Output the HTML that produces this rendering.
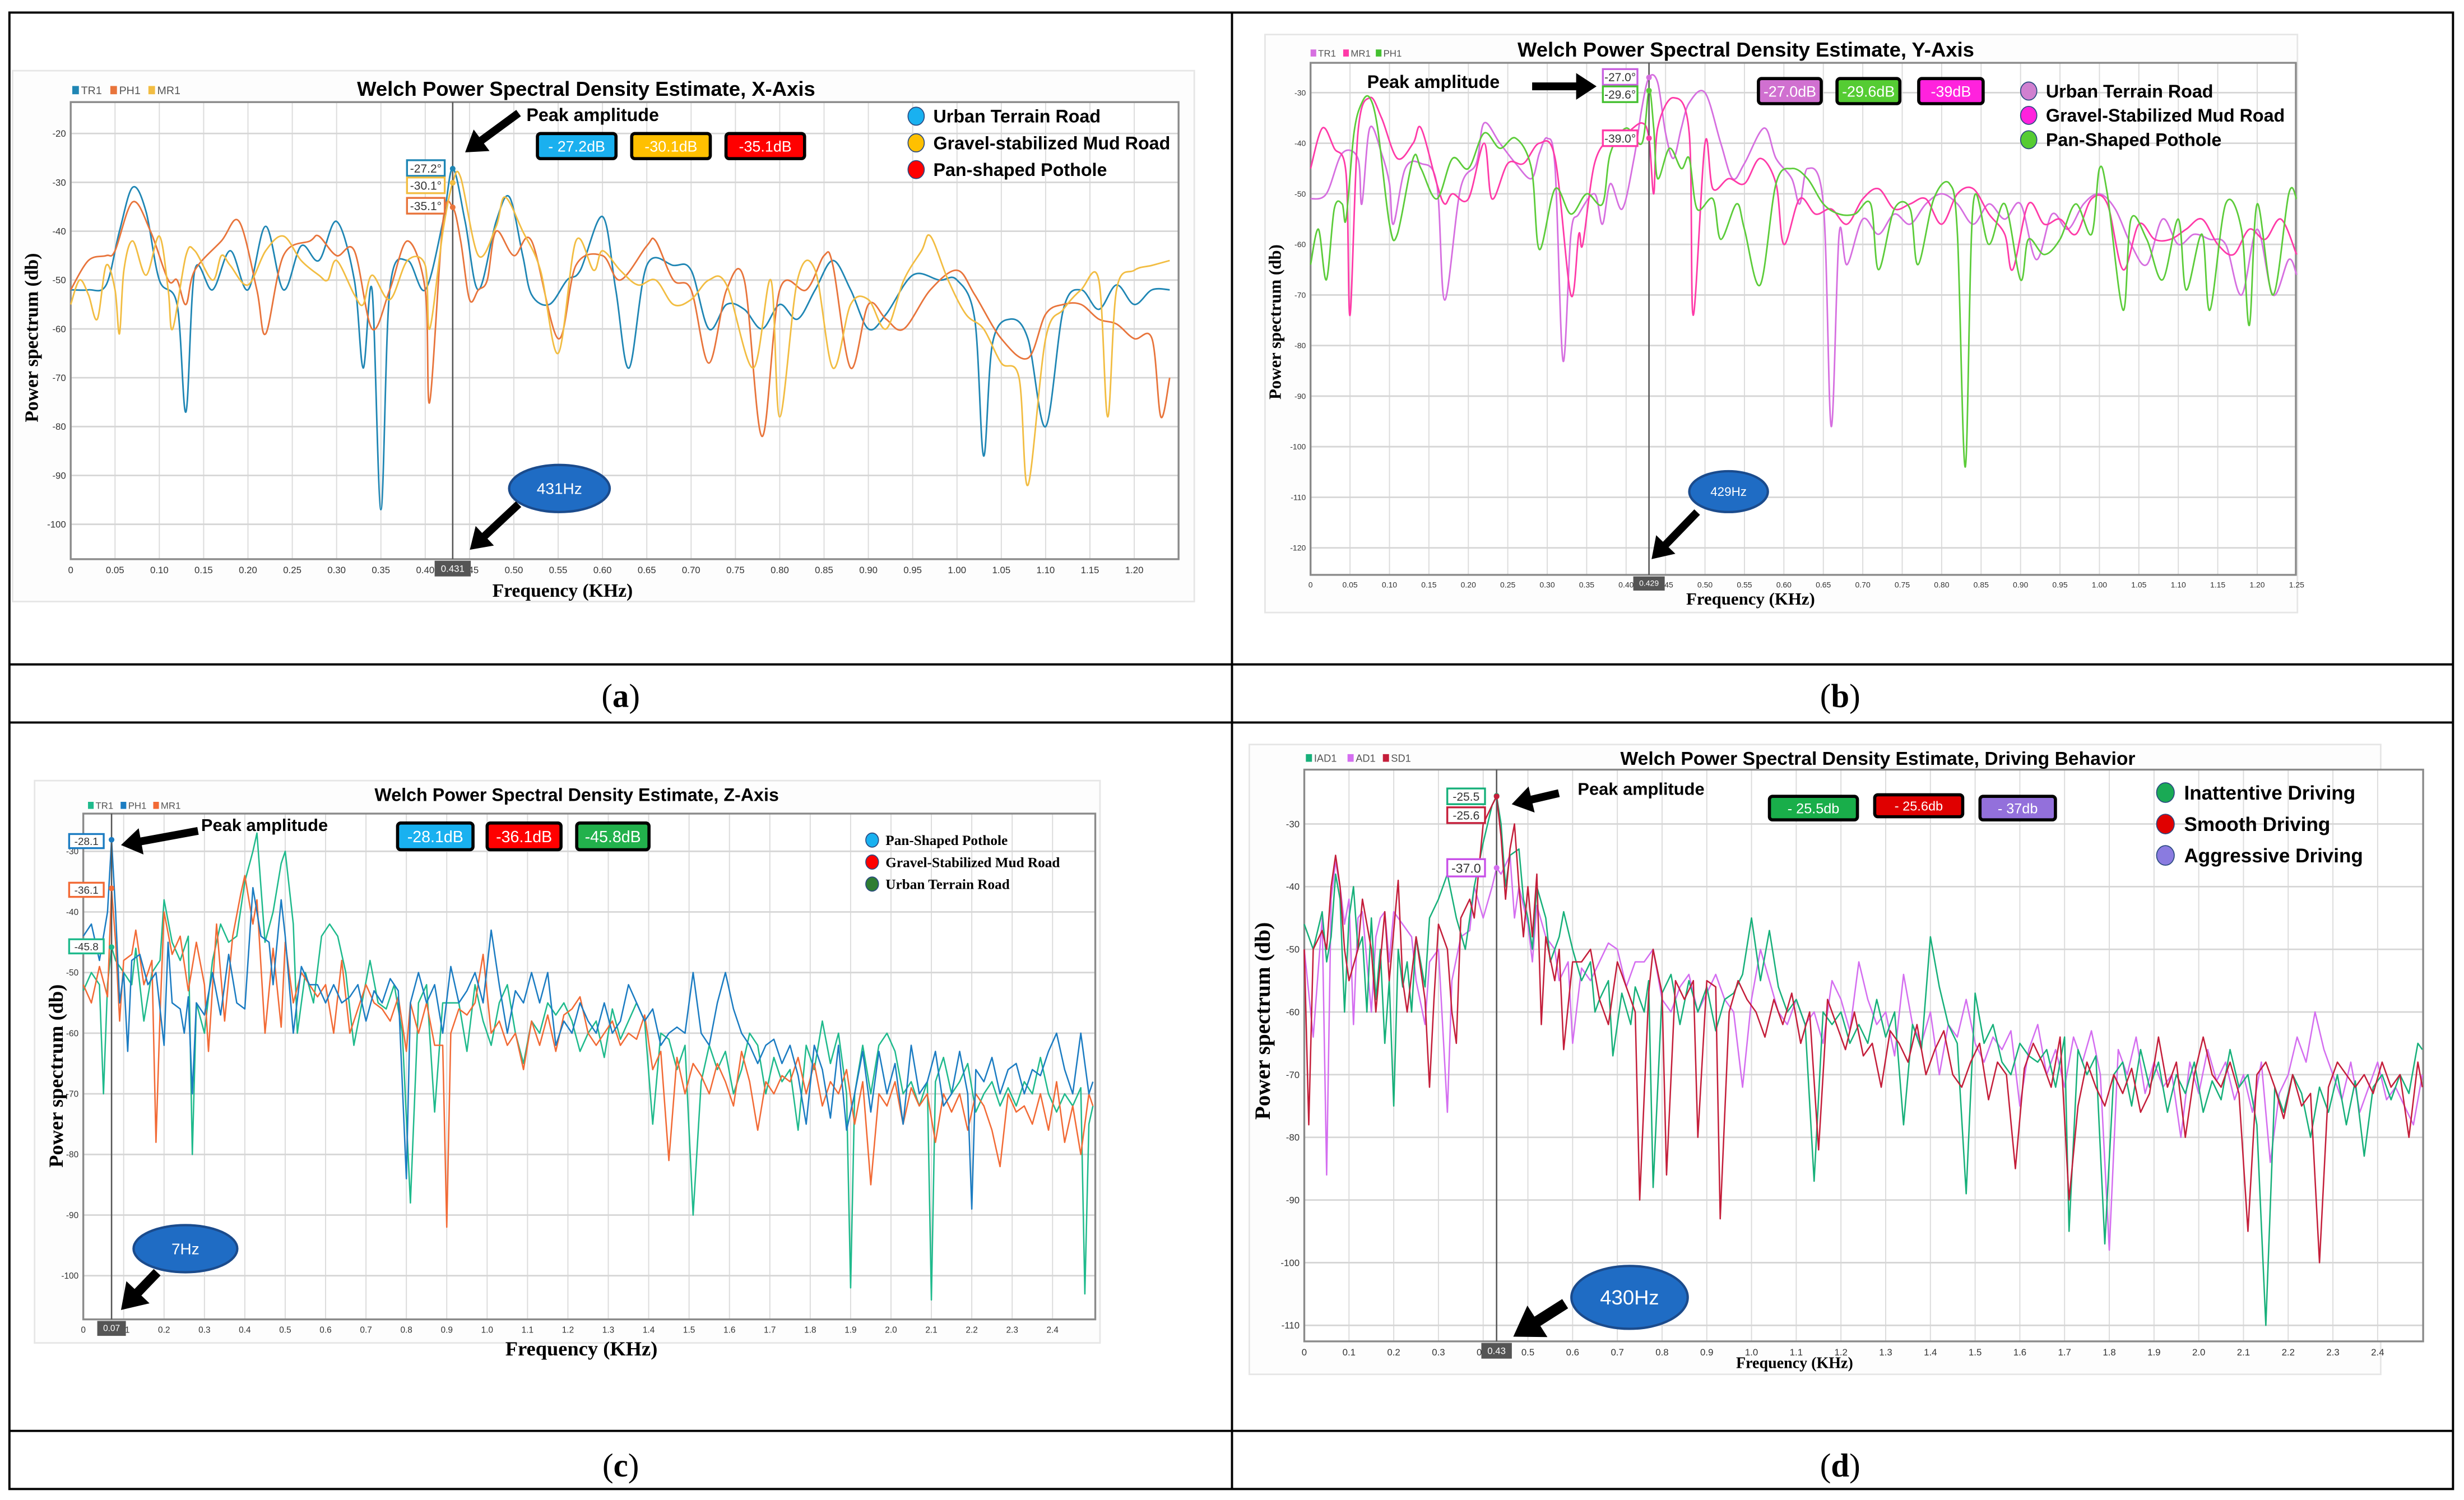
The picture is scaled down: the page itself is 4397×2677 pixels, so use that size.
<!DOCTYPE html>
<html><head><meta charset="utf-8"><title>Welch PSD figure</title>
<style>
html,body{margin:0;padding:0;background:#fff;}
svg{display:block;}
text{font-family:"Liberation Sans",sans-serif;}
.serif{font-family:"Liberation Serif",serif;}
</style></head>
<body>
<svg id="fig" xmlns="http://www.w3.org/2000/svg" width="4397" height="2677" viewBox="0 0 1568 955" preserveAspectRatio="none">
  <rect x="0" y="0" width="1568" height="955" fill="#fff"/>
  <g fill="none" stroke="#000" stroke-width="1.4">
    <rect x="6" y="8" width="1555" height="940"/>
    <line x1="784" y1="8" x2="784" y2="948"/>
    <line x1="6" y1="423" x2="1561" y2="423"/>
    <line x1="6" y1="460" x2="1561" y2="460"/>
    <line x1="6" y1="911" x2="1561" y2="911"/>
  </g>
  <text class="serif" x="395" y="450" font-size="21" text-anchor="middle">(<tspan font-weight="bold">a</tspan>)</text>
  <text class="serif" x="1171" y="450" font-size="21" text-anchor="middle">(<tspan font-weight="bold">b</tspan>)</text>
  <text class="serif" x="395" y="940" font-size="21" text-anchor="middle">(<tspan font-weight="bold">c</tspan>)</text>
  <text class="serif" x="1171" y="940" font-size="21" text-anchor="middle">(<tspan font-weight="bold">d</tspan>)</text>
  <g id="charts"></g>
</svg>
<script>
// ===== Panel (a) X-axis data =====
const aFreqTR1=[0,.02,.04,.055,.07,.085,.10,.12,.13,.14,.16,.18,.20,.22,.24,.26,.28,.30,.32,.33,.34,.35,.36,.38,.40,.42,.431,.445,.46,.48,.495,.51,.52,.54,.56,.575,.60,.615,.63,.65,.68,.70,.72,.74,.76,.78,.80,.82,.84,.86,.88,.90,.92,.95,.98,1.00,1.02,1.03,1.04,1.06,1.08,1.10,1.12,1.14,1.16,1.18,1.20,1.22,1.24];
const aDbTR1=[-52,-52,-51,-40,-31,-36,-50,-55,-77,-48,-52,-44,-52,-39,-52,-43,-46,-38,-50,-68,-52,-97,-52,-46,-52,-38,-27.2,-38,-52,-38,-33,-45,-53,-55,-50,-48,-37,-52,-68,-47,-47,-48,-60,-55,-56,-60,-55,-58,-52,-46,-52,-60,-57,-49,-50,-50,-58,-86,-63,-58,-62,-80,-56,-52,-56,-51,-55,-52,-52];
const aFreqPH1=[0,.02,.04,.05,.07,.09,.11,.12,.13,.14,.17,.19,.21,.22,.24,.27,.28,.30,.32,.34,.36,.38,.40,.405,.42,.431,.44,.45,.46,.47,.48,.50,.52,.55,.57,.60,.62,.65,.66,.68,.70,.72,.74,.76,.78,.80,.83,.85,.86,.88,.90,.92,.94,.97,1.00,1.02,1.05,1.08,1.10,1.12,1.14,1.16,1.18,1.20,1.22,1.23,1.24];
const aDbPH1=[-52,-46,-45,-44,-34,-40,-50,-50,-55,-48,-42,-38,-52,-61,-45,-42,-41,-45,-44,-60,-52,-42,-52,-75,-38,-35.1,-42,-54,-52,-50,-40,-45,-42,-62,-47,-45,-50,-43,-42,-50,-52,-67,-52,-50,-82,-52,-52,-45,-47,-68,-55,-58,-60,-52,-48,-53,-62,-66,-57,-55,-55,-58,-59,-62,-62,-78,-70];
const aFreqMR1=[0,.01,.02,.03,.04,.05,.055,.06,.07,.085,.10,.11,.115,.13,.14,.16,.17,.18,.20,.22,.24,.26,.28,.29,.30,.32,.33,.34,.36,.38,.40,.405,.42,.431,.44,.46,.48,.49,.51,.53,.55,.57,.59,.60,.62,.64,.66,.68,.70,.72,.74,.77,.79,.80,.82,.84,.86,.88,.90,.92,.94,.96,.97,.99,1.01,1.03,1.05,1.07,1.08,1.10,1.12,1.14,1.16,1.17,1.18,1.20,1.22,1.24];
const aDbMR1=[-55,-50,-53,-58,-47,-52,-61,-48,-42,-49,-41,-52,-60,-45,-44,-50,-45,-47,-51,-44,-41,-46,-49,-50,-46,-53,-55,-49,-54,-46,-47,-60,-40,-30.1,-29,-45,-39,-33,-40,-48,-65,-42,-48,-44,-48,-51,-50,-55,-54,-50,-51,-68,-50,-78,-50,-48,-68,-55,-54,-60,-50,-44,-41,-50,-57,-60,-67,-70,-92,-62,-56,-52,-50,-78,-52,-48,-47,-46];

// ===== Panel (b) Y-axis data =====
const bFreqTR1=[0,.02,.04,.06,.065,.075,.09,.10,.105,.12,.14,.16,.17,.19,.21,.22,.24,.26,.28,.29,.30,.31,.32,.33,.34,.36,.37,.38,.395,.41,.42,.429,.44,.45,.46,.47,.48,.50,.52,.535,.55,.575,.59,.61,.62,.63,.65,.66,.67,.68,.70,.72,.74,.76,.78,.80,.82,.84,.86,.88,.90,.92,.94,.96,.98,1.00,1.02,1.04,1.06,1.08,1.10,1.12,1.14,1.16,1.18,1.20,1.22,1.24,1.25];
const bDbTR1=[-51,-50,-42,-43,-52,-37,-42,-48,-56,-45,-44,-48,-71,-49,-44,-36,-40,-44,-47,-42,-39,-45,-83,-58,-54,-50,-56,-48,-53,-43,-33,-27,-28,-38,-43,-37,-32,-30,-40,-47,-44,-37,-43,-47,-52,-45,-52,-96,-58,-64,-55,-58,-54,-56,-52,-50,-52,-56,-52,-55,-52,-63,-54,-57,-52,-50,-53,-60,-64,-55,-60,-58,-59,-60,-70,-57,-70,-63,-66];
const bFreqMR1=[0,.015,.03,.045,.05,.06,.075,.09,.11,.13,.14,.16,.17,.18,.20,.22,.23,.25,.27,.29,.31,.33,.34,.345,.36,.38,.40,.42,.429,.435,.44,.46,.48,.485,.50,.51,.53,.55,.57,.59,.60,.62,.64,.66,.68,.70,.72,.74,.76,.78,.80,.82,.84,.86,.88,.89,.91,.93,.95,.97,.99,1.01,1.03,1.05,1.07,1.09,1.11,1.13,1.15,1.17,1.19,1.21,1.23,1.25];
const bDbMR1=[-45,-37,-41,-46,-74,-38,-31,-35,-43,-40,-37,-48,-52,-50,-51,-40,-51,-44,-44,-40,-43,-70,-58,-60,-44,-39,-38,-36,-39,-50,-37,-31,-38,-74,-40,-49,-47,-48,-43,-48,-60,-51,-54,-53,-56,-51,-49,-53,-52,-51,-56,-50,-49,-54,-58,-65,-52,-56,-55,-58,-51,-52,-65,-56,-59,-59,-57,-55,-60,-62,-57,-59,-55,-62];
const bFreqPH1=[0,.01,.02,.03,.04,.045,.055,.065,.075,.085,.10,.11,.13,.14,.16,.18,.20,.22,.24,.26,.28,.29,.31,.33,.35,.37,.38,.40,.42,.429,.435,.44,.455,.47,.48,.49,.51,.52,.54,.55,.57,.59,.61,.63,.65,.67,.69,.71,.72,.74,.76,.77,.79,.81,.82,.83,.84,.86,.88,.90,.91,.93,.95,.97,.99,1.00,1.01,1.03,1.04,1.06,1.08,1.10,1.11,1.13,1.14,1.16,1.18,1.19,1.20,1.22,1.24,1.25];
const bDbPH1=[-64,-57,-67,-53,-52,-55,-38,-32,-31,-37,-56,-58,-43,-45,-51,-43,-45,-38,-41,-39,-45,-61,-49,-54,-50,-52,-42,-37,-40,-29.6,-37,-47,-41,-45,-43,-53,-51,-59,-52,-57,-68,-48,-45,-47,-52,-54,-54,-52,-65,-53,-53,-64,-51,-48,-58,-104,-52,-60,-52,-67,-59,-62,-59,-52,-58,-45,-50,-73,-55,-59,-67,-55,-69,-58,-73,-52,-57,-76,-52,-70,-50,-51];

// ===== Panel (c) Z-axis data =====
const cFreqPH1=[0,.02,.04,.06,.07,.08,.09,.10,.11,.12,.14,.16,.18,.20,.21,.22,.24,.25,.26,.27,.28,.30,.32,.34,.36,.38,.40,.42,.44,.46,.47,.49,.50,.52,.54,.56,.58,.60,.62,.64,.66,.68,.70,.72,.74,.76,.78,.80,.81,.83,.85,.87,.89,.91,.93,.95,.97,.99,1.01,1.03,1.05,1.07,1.09,1.11,1.13,1.15,1.17,1.19,1.21,1.23,1.25,1.27,1.29,1.31,1.33,1.35,1.37,1.39,1.41,1.43,1.45,1.47,1.49,1.51,1.53,1.55,1.57,1.59,1.61,1.63,1.65,1.67,1.69,1.71,1.73,1.75,1.77,1.79,1.81,1.83,1.85,1.87,1.89,1.91,1.93,1.95,1.97,1.99,2.01,2.03,2.05,2.07,2.09,2.11,2.13,2.15,2.17,2.19,2.20,2.21,2.23,2.25,2.27,2.29,2.31,2.33,2.35,2.37,2.39,2.41,2.43,2.45,2.47,2.49,2.50];
const cDbPH1=[-44,-42,-48,-40,-28.1,-40,-55,-50,-63,-48,-47,-52,-50,-62,-45,-55,-56,-60,-54,-70,-55,-57,-50,-57,-47,-55,-56,-36,-44,-45,-52,-38,-44,-60,-49,-52,-52,-55,-52,-55,-54,-52,-58,-53,-55,-51,-53,-84,-55,-50,-55,-52,-60,-49,-55,-53,-50,-55,-43,-52,-60,-53,-55,-50,-55,-50,-62,-58,-60,-55,-58,-60,-55,-60,-58,-52,-55,-58,-56,-62,-60,-59,-60,-50,-60,-62,-55,-50,-56,-60,-62,-65,-62,-61,-65,-62,-67,-75,-62,-66,-74,-62,-76,-70,-63,-73,-63,-70,-65,-75,-62,-70,-68,-63,-72,-70,-63,-70,-89,-66,-68,-64,-70,-66,-65,-70,-66,-67,-63,-60,-66,-70,-60,-70,-68];
const cFreqMR1=[0,.02,.04,.06,.07,.08,.09,.10,.12,.13,.15,.17,.18,.19,.20,.22,.24,.26,.28,.30,.31,.33,.35,.37,.39,.40,.42,.43,.45,.47,.49,.50,.52,.54,.56,.58,.60,.62,.64,.66,.68,.70,.72,.74,.76,.78,.80,.81,.83,.85,.87,.89,.90,.91,.93,.95,.97,.99,1.01,1.03,1.05,1.07,1.09,1.11,1.13,1.15,1.17,1.19,1.21,1.23,1.25,1.27,1.29,1.31,1.33,1.35,1.37,1.39,1.41,1.43,1.45,1.47,1.49,1.51,1.53,1.55,1.57,1.59,1.61,1.63,1.65,1.67,1.69,1.71,1.73,1.75,1.77,1.79,1.81,1.83,1.85,1.87,1.89,1.91,1.93,1.95,1.97,1.99,2.01,2.03,2.05,2.07,2.09,2.11,2.13,2.15,2.17,2.19,2.21,2.23,2.25,2.27,2.29,2.31,2.33,2.35,2.37,2.39,2.41,2.43,2.45,2.47,2.49,2.50];
const cDbMR1=[-52,-55,-49,-54,-36.1,-45,-58,-48,-47,-43,-52,-48,-78,-57,-40,-47,-44,-53,-45,-52,-63,-42,-58,-44,-37,-34,-42,-38,-60,-46,-59,-45,-55,-50,-52,-54,-52,-60,-48,-60,-56,-52,-55,-56,-58,-54,-63,-55,-60,-55,-62,-62,-92,-60,-56,-57,-55,-47,-60,-58,-62,-60,-66,-58,-62,-57,-63,-57,-56,-54,-60,-62,-60,-58,-62,-60,-61,-57,-66,-63,-81,-64,-70,-65,-67,-70,-65,-68,-72,-63,-68,-76,-68,-70,-67,-68,-64,-70,-65,-72,-68,-70,-66,-75,-68,-85,-70,-72,-68,-75,-69,-72,-70,-78,-70,-73,-70,-76,-70,-72,-76,-82,-70,-73,-72,-75,-70,-76,-68,-78,-72,-80,-70,-72];
const cFreqTR1=[0,.02,.04,.05,.06,.07,.08,.10,.12,.13,.15,.17,.19,.20,.22,.24,.26,.27,.28,.30,.32,.34,.36,.38,.40,.42,.43,.45,.47,.49,.50,.52,.53,.55,.57,.59,.61,.63,.65,.67,.69,.71,.73,.75,.77,.79,.81,.83,.85,.87,.89,.91,.93,.95,.97,.99,1.01,1.03,1.05,1.07,1.09,1.11,1.13,1.15,1.17,1.19,1.21,1.23,1.25,1.27,1.29,1.31,1.33,1.35,1.37,1.39,1.41,1.43,1.45,1.47,1.49,1.51,1.53,1.55,1.57,1.59,1.61,1.63,1.65,1.67,1.69,1.71,1.73,1.75,1.77,1.79,1.81,1.83,1.85,1.87,1.89,1.90,1.91,1.93,1.95,1.97,1.99,2.01,2.03,2.05,2.07,2.09,2.10,2.11,2.13,2.15,2.17,2.19,2.21,2.23,2.25,2.27,2.29,2.31,2.33,2.35,2.37,2.39,2.41,2.43,2.45,2.47,2.48,2.49,2.50];
const cDbTR1=[-53,-50,-52,-70,-52,-45.8,-48,-50,-52,-46,-58,-50,-48,-38,-45,-48,-44,-80,-55,-60,-48,-42,-45,-44,-35,-30,-27,-45,-40,-32,-30,-42,-60,-50,-55,-44,-42,-44,-50,-62,-55,-48,-55,-56,-52,-60,-88,-55,-52,-73,-55,-55,-55,-63,-52,-58,-62,-55,-52,-60,-65,-58,-60,-55,-57,-55,-58,-63,-60,-58,-64,-56,-61,-58,-55,-58,-75,-60,-61,-66,-62,-90,-68,-62,-66,-63,-70,-66,-60,-62,-70,-64,-68,-66,-76,-62,-66,-58,-65,-60,-70,-102,-70,-62,-70,-62,-60,-63,-70,-68,-72,-68,-104,-68,-64,-70,-68,-65,-73,-70,-68,-72,-69,-72,-68,-70,-64,-70,-73,-70,-72,-69,-103,-75,-72];

// ===== Panel (d) Driving behaviour data =====
const dFreqIAD1=[0,.02,.04,.05,.06,.07,.08,.09,.10,.11,.12,.13,.14,.15,.16,.17,.18,.19,.20,.21,.22,.23,.24,.25,.26,.27,.28,.30,.32,.34,.36,.38,.40,.42,.43,.44,.45,.46,.48,.49,.50,.51,.52,.54,.55,.57,.58,.60,.62,.64,.65,.66,.68,.69,.71,.73,.74,.76,.77,.78,.80,.82,.84,.86,.88,.90,.92,.94,.96,.98,1.00,1.02,1.04,1.06,1.08,1.10,1.12,1.14,1.16,1.18,1.20,1.22,1.24,1.26,1.28,1.30,1.32,1.34,1.36,1.38,1.40,1.42,1.44,1.46,1.48,1.50,1.52,1.54,1.56,1.58,1.60,1.62,1.64,1.66,1.68,1.70,1.71,1.73,1.75,1.77,1.79,1.81,1.83,1.85,1.87,1.89,1.91,1.93,1.95,1.97,1.99,2.01,2.03,2.05,2.07,2.09,2.11,2.13,2.15,2.17,2.19,2.21,2.23,2.25,2.27,2.29,2.31,2.33,2.35,2.37,2.39,2.41,2.43,2.45,2.47,2.49,2.50];
const dDbIAD1=[-46,-50,-44,-52,-48,-38,-42,-60,-45,-40,-50,-48,-60,-45,-58,-50,-65,-55,-75,-50,-56,-52,-60,-48,-52,-56,-45,-42,-38,-45,-50,-40,-33,-27,-25.5,-30,-40,-35,-34,-42,-45,-50,-40,-45,-52,-48,-44,-50,-55,-52,-60,-58,-55,-67,-57,-62,-56,-60,-55,-88,-57,-54,-62,-55,-60,-56,-63,-58,-57,-54,-45,-55,-47,-56,-60,-58,-62,-87,-60,-62,-60,-65,-62,-65,-58,-64,-60,-78,-62,-66,-48,-56,-62,-65,-89,-57,-65,-62,-68,-70,-65,-67,-68,-66,-72,-64,-95,-66,-70,-67,-97,-70,-68,-75,-66,-72,-68,-76,-70,-73,-68,-76,-71,-74,-66,-72,-70,-78,-110,-72,-76,-70,-73,-80,-72,-76,-70,-78,-71,-83,-72,-70,-74,-70,-73,-65,-66];
const dFreqAD1=[0,.02,.04,.05,.06,.07,.08,.09,.10,.11,.12,.13,.14,.15,.16,.17,.18,.19,.20,.22,.24,.25,.27,.28,.30,.32,.33,.35,.37,.38,.40,.42,.43,.44,.46,.47,.48,.50,.51,.52,.54,.56,.57,.59,.60,.62,.64,.66,.68,.70,.72,.74,.76,.78,.80,.82,.84,.86,.88,.90,.92,.94,.96,.98,1.00,1.02,1.04,1.06,1.08,1.10,1.12,1.14,1.16,1.18,1.20,1.22,1.24,1.26,1.28,1.30,1.32,1.34,1.36,1.38,1.40,1.42,1.44,1.46,1.48,1.50,1.52,1.54,1.56,1.58,1.60,1.62,1.64,1.66,1.68,1.70,1.72,1.74,1.76,1.78,1.80,1.82,1.84,1.86,1.88,1.90,1.92,1.94,1.96,1.98,2.00,2.02,2.04,2.06,2.08,2.10,2.12,2.14,2.16,2.18,2.20,2.22,2.24,2.26,2.28,2.30,2.32,2.34,2.36,2.38,2.40,2.42,2.44,2.46,2.48,2.50];
const dDbAD1=[-50,-64,-45,-86,-42,-36,-40,-46,-42,-62,-45,-44,-52,-60,-48,-45,-44,-52,-44,-46,-48,-55,-62,-52,-50,-76,-55,-48,-47,-40,-45,-40,-37,-38,-35,-45,-40,-46,-52,-43,-48,-50,-55,-52,-65,-53,-55,-52,-49,-50,-56,-52,-52,-50,-58,-60,-56,-54,-60,-57,-54,-58,-60,-72,-58,-50,-55,-60,-62,-58,-62,-60,-65,-55,-58,-63,-52,-58,-62,-60,-67,-54,-62,-65,-60,-70,-62,-64,-58,-65,-68,-64,-66,-63,-75,-66,-62,-70,-66,-72,-64,-68,-63,-70,-98,-66,-70,-64,-73,-68,-72,-70,-80,-68,-73,-66,-71,-68,-74,-70,-76,-68,-84,-73,-70,-64,-68,-60,-66,-70,-74,-68,-76,-72,-68,-74,-72,-75,-78,-70];
const dFreqSD1=[0,.01,.02,.04,.05,.06,.07,.08,.09,.10,.12,.13,.15,.16,.18,.19,.21,.22,.23,.25,.27,.28,.29,.30,.32,.33,.34,.35,.37,.38,.40,.42,.43,.44,.45,.46,.47,.48,.49,.50,.51,.52,.53,.54,.56,.57,.58,.60,.62,.64,.66,.68,.70,.72,.74,.75,.77,.78,.80,.81,.83,.85,.87,.88,.90,.92,.93,.95,.97,.99,1.01,1.03,1.05,1.07,1.09,1.11,1.13,1.15,1.17,1.19,1.21,1.23,1.25,1.27,1.29,1.31,1.33,1.35,1.37,1.39,1.41,1.43,1.45,1.47,1.49,1.51,1.53,1.55,1.57,1.59,1.61,1.63,1.65,1.67,1.69,1.71,1.73,1.75,1.77,1.79,1.81,1.83,1.85,1.87,1.89,1.91,1.93,1.95,1.97,1.99,2.01,2.03,2.05,2.07,2.09,2.11,2.13,2.15,2.17,2.19,2.21,2.23,2.25,2.27,2.29,2.31,2.33,2.35,2.37,2.39,2.41,2.43,2.45,2.47,2.49,2.50];
const dDbSD1=[-50,-78,-50,-47,-50,-40,-35,-40,-50,-55,-50,-42,-50,-60,-44,-55,-39,-55,-60,-48,-58,-72,-58,-46,-50,-60,-65,-45,-42,-45,-30,-27,-25.6,-32,-42,-34,-30,-40,-48,-40,-48,-38,-62,-48,-55,-50,-66,-52,-52,-50,-58,-62,-52,-56,-60,-90,-57,-50,-57,-86,-55,-58,-55,-80,-55,-56,-93,-60,-55,-58,-60,-64,-58,-62,-57,-65,-60,-82,-58,-62,-66,-60,-67,-65,-72,-63,-65,-68,-62,-70,-66,-63,-70,-72,-68,-65,-74,-68,-70,-85,-69,-65,-68,-72,-64,-90,-75,-68,-72,-75,-70,-73,-69,-76,-73,-64,-72,-68,-80,-70,-64,-70,-72,-68,-73,-95,-70,-68,-72,-77,-70,-75,-73,-100,-72,-68,-70,-72,-70,-73,-68,-72,-70,-80,-68,-72];

const NS="http://www.w3.org/2000/svg";
const root=document.getElementById('charts');
function el(tag,attrs,parent,txt){
  const e=document.createElementNS(NS,tag);
  for(const k in attrs) e.setAttribute(k,attrs[k]);
  if(txt!==undefined) e.textContent=txt;
  (parent||root).appendChild(e);
  return e;
}
function smoothPath(pts){
  let d='M'+pts[0][0].toFixed(2)+','+pts[0][1].toFixed(2);
  for(let i=0;i<pts.length-1;i++){
    const p0=pts[Math.max(0,i-1)],p1=pts[i],p2=pts[i+1],p3=pts[Math.min(pts.length-1,i+2)];
    const c1x=p1[0]+(p2[0]-p0[0])/6,c1y=p1[1]+(p2[1]-p0[1])/6;
    const c2x=p2[0]-(p3[0]-p1[0])/6,c2y=p2[1]-(p3[1]-p1[1])/6;
    d+=' C'+c1x.toFixed(2)+','+c1y.toFixed(2)+' '+c2x.toFixed(2)+','+c2y.toFixed(2)+' '+p2[0].toFixed(2)+','+p2[1].toFixed(2);
  }
  return d;
}
function linePath(pts){return 'M'+pts.map(p=>p[0].toFixed(2)+','+p[1].toFixed(2)).join(' L');}
function arrow(g,x1,y1,x2,y2,w){
  const dx=x2-x1,dy=y2-y1,L=Math.hypot(dx,dy),ux=dx/L,uy=dy/L,px=-uy,py=ux;
  const hl=w*2.6,hw=w*1.7;
  const bx=x2-ux*hl,by=y2-uy*hl;
  const a=el('polygon',{points:[
    [x1+px*w/2,y1+py*w/2],[bx+px*w/2,by+py*w/2],[bx+px*hw,by+py*hw],[x2,y2],
    [bx-px*hw,by-py*hw],[bx-px*w/2,by-py*w/2],[x1-px*w/2,y1-py*w/2]].map(p=>p.join(',')).join(' '),fill:'#000'},g);
  
  
}

function drawChart(cfg){
  const g=el('g',{});
  
  
  const [fx0,fy0,fw,fh]=cfg.frame;
  const fr=el('rect',{x:fx0,y:fy0,width:fw,height:fh,fill:'#fdfdfd',stroke:'#e6e6e6','stroke-width':1},g);
  
  
  const P=cfg.plot;
  const xs=f=>cfg.x0px+(f-0)*cfg.pxPerK;
  const ys=v=>cfg.yRefPx+(cfg.yRef-v)*cfg.pxPerDb;
  const pr=el('rect',{x:P.l,y:P.t,width:P.r-P.l,height:P.b-P.t,fill:'#fff',stroke:'none'},g);
  
  
  const grid=el('g',{stroke:'#dcdcdc','stroke-width':0.7},g);
  
  
  const xt=cfg.xTicks;
  for(let i=0;i<xt.length;i++){
    const x=xs(xt[i]);
    el('line',{x1:x,y1:P.t,x2:x,y2:P.b},grid);
  }
  for(const v of cfg.yTicks){
    const y=ys(v); if(y<P.t||y>P.b) continue;
    el('line',{x1:P.l,y1:y,x2:P.r,y2:y,'stroke':'#d6d6d6','stroke-width':1},grid);
  }
  const yl=el('g',{'font-size':cfg.tickFs,fill:'#333','text-anchor':'end'},g);
  
  
  for(const v of cfg.yTicks){
    const y=ys(v); if(y<P.t||y>P.b) continue;
    el('text',{x:P.l-3,y:y+cfg.tickFs*0.35},yl,String(v));
  }
  const xl=el('g',{'font-size':cfg.tickFs,fill:'#333','text-anchor':'middle'},g);
  
  
  for(let i=0;i<xt.length;i++){
    const lbl=xt[i]===0?'0':xt[i].toFixed(cfg.xDec);
    el('text',{x:xs(xt[i]),y:P.b+cfg.tickFs+3},xl,lbl);
  }
  const bd=el('rect',{x:P.l,y:P.t,width:P.r-P.l,height:P.b-P.t,fill:'none',stroke:'#8a8a8a','stroke-width':1.2},g);
  
  
  for(const s of cfg.series){
    const n=Math.min(s.f.length,s.v.length);
    const pts=[];
    for(let i=0;i<n;i++) pts.push([xs(s.f[i]),Math.min(P.b,Math.max(P.t,ys(s.v[i])))]);
    const p=el('path',{d:cfg.smooth?smoothPath(pts):linePath(pts),fill:'none',stroke:s.color,'stroke-width':cfg.lw,'stroke-linejoin':'round'},g);
    
    
  }
  const cx=xs(cfg.cross);
  const ch=el('line',{x1:cx,y1:P.t,x2:cx,y2:P.b,stroke:'#555','stroke-width':0.9},g);
  
  
  const cbw=cfg.crossLabel.length*cfg.tickFs*0.6+5;
  const cb=el('rect',{x:cx-cbw/2,y:P.b+1,width:cbw,height:cfg.tickFs+4,fill:'#555'},g);
  
  
  const ct=el('text',{x:cx,y:P.b+cfg.tickFs+2,'font-size':cfg.tickFs,fill:'#fff','text-anchor':'middle'},g,cfg.crossLabel);
  
  
  for(const s of cfg.series){
    const pv=s.peak; if(pv===undefined) continue;
    const dot=el('circle',{cx:cx,cy:ys(pv),r:1.8,fill:s.color},g);
    
    
  }
  for(const b of cfg.peakBoxes){
    const r=el('rect',{x:b.x,y:b.y,width:b.w,height:b.h,fill:'#fff',stroke:b.c,'stroke-width':1.2},g);
    
    
    const t=el('text',{x:b.x+b.w/2,y:b.y+b.h*0.78,'font-size':b.h*0.75,fill:'#333','text-anchor':'middle'},g,b.t);
    
    
  }
  const tt=el('text',{x:cfg.title.x,y:cfg.title.y,'font-size':cfg.title.fs,'font-weight':'bold','text-anchor':'middle',fill:'#000'},g,cfg.title.t);
  
  
  let lx=cfg.miniLeg.x;
  for(const s of cfg.miniLeg.items){
    const sq=el('rect',{x:lx,y:cfg.miniLeg.y-cfg.miniLeg.fs*0.75,width:cfg.miniLeg.fs*0.6,height:cfg.miniLeg.fs*0.75,fill:s[1]},g);
    
    
    const t=el('text',{x:lx+cfg.miniLeg.fs*0.8,y:cfg.miniLeg.y,'font-size':cfg.miniLeg.fs,fill:'#555'},g,s[0]);
    
    
    lx+=cfg.miniLeg.fs*(s[0].length*0.62+1.6);
  }
  const pa=el('text',{x:cfg.peakTxt.x,y:cfg.peakTxt.y,'font-size':cfg.peakTxt.fs,'font-weight':'bold',fill:'#000'},g,'Peak amplitude');
  
  
  arrow(g,...cfg.peakArrow);
  for(const b of cfg.badges){
    const r=el('rect',{x:b.x,y:b.y,width:b.w,height:b.h,rx:2,fill:b.c,stroke:'#000','stroke-width':2},g);
    
    
    const t=el('text',{x:b.x+b.w/2,y:b.y+b.h*0.72,'font-size':b.h*0.6,fill:'#fff','text-anchor':'middle'},g,b.t);
    
    
  }
  const L=cfg.legend;
  L.items.forEach((it,i)=>{
    const y=L.y+i*L.dy;
    const c=el('ellipse',{cx:L.x,cy:y-L.fs*0.35,rx:L.fs*0.45,ry:L.fs*0.5,fill:it[1],stroke:'#2a4a80','stroke-width':0.6},g);
    
    
    const t=el('text',{x:L.x+L.fs*0.95,y:y,'font-size':L.fs,'font-weight':'bold',fill:'#000',class:L.serif?'serif':''},g,it[0]);
    
    
  });
  const C=cfg.callout;
  const e=el('ellipse',{cx:C.x,cy:C.y,rx:C.rx,ry:C.ry,fill:'#1f6cc4',stroke:'#1b4b8c','stroke-width':1.5},g);
  
  
  const et=el('text',{x:C.x,y:C.y+C.fs*0.35,'font-size':C.fs,fill:'#fff','text-anchor':'middle'},g,C.t);
  
  
  arrow(g,...cfg.callArrow);
  const xtl=el('text',{x:cfg.xTitle.x,y:cfg.xTitle.y,'font-size':cfg.xTitle.fs,'font-weight':'bold','text-anchor':'middle',class:'serif'},g,'Frequency (KHz)');
  
  
  const ytl=el('text',{x:0,y:0,'font-size':cfg.yTitle.fs,'font-weight':'bold','text-anchor':'middle',class:'serif',transform:'translate('+cfg.yTitle.x+','+cfg.yTitle.y+') rotate(-90)'},g,'Power spectrum (db)');
  
  
}
function range(a,b,s){const r=[];for(let v=a;v<=b+1e-9;v+=s)r.push(Math.round(v*1000)/1000);return r;}
function dbRange(a,b){const r=[];for(let v=a;v>=b;v-=10)r.push(v);return r;}

drawChart({name:'chart-x-axis',frame:[8,45,752,338],plot:{l:45,t:65,r:750,b:356},
  x0px:45,pxPerK:564, yRef:-20,yRefPx:85,pxPerDb:3.11, xTicks:range(0,1.20,0.05),xDec:2,yTicks:dbRange(-20,-100),
  tickFs:6,lw:1,smooth:true,cross:0.431,crossLabel:'0.431',
  series:[{key:'tr1',f:aFreqTR1,v:aDbTR1,color:'#1f86b4',peak:-27.2},{key:'ph1',f:aFreqPH1,v:aDbPH1,color:'#e8743b',peak:-35.1},{key:'mr1',f:aFreqMR1,v:aDbMR1,color:'#f2bd42',peak:-30.1}],
  peakBoxes:[{x:259,y:102,w:24,h:10,c:'#1f86b4',t:'-27.2°'},{x:259,y:113,w:24,h:10,c:'#f2bd42',t:'-30.1°'},{x:259,y:126,w:24,h:10,c:'#e8743b',t:'-35.1°'}],
  title:{x:373,y:61,fs:13,t:'Welch Power Spectral Density Estimate, X-Axis'},
  miniLeg:{x:46,y:60,fs:7,items:[['TR1','#1f86b4'],['PH1','#e8743b'],['MR1','#f2bd42']]},
  peakTxt:{x:335,y:77,fs:11.5},peakArrow:[330,72,296,97,5],
  badges:[{x:342,y:85,w:50,h:16,c:'#1ab0ef',t:'- 27.2dB'},{x:402,y:85,w:50,h:16,c:'#ffc000',t:'-30.1dB'},{x:462,y:85,w:50,h:16,c:'#ff0000',t:'-35.1dB'}],
  legend:{x:583,y:78,dy:17,fs:11.5,items:[['Urban Terrain Road','#19b1f0'],['Gravel-stabilized Mud Road','#ffc000'],['Pan-shaped Pothole','#ff0000']]},
  callout:{x:356,y:311,rx:32,ry:15,fs:10,t:'431Hz'},callArrow:[330,321,299,350,5],
  xTitle:{x:358,y:380,fs:12},yTitle:{x:24,y:215,fs:12}});

drawChart({name:'chart-y-axis',frame:[805,22,657,368],plot:{l:834,t:40,r:1461,b:366},
  x0px:834,pxPerK:502, yRef:-30,yRefPx:59,pxPerDb:3.22, xTicks:range(0,1.25,0.05),xDec:2,yTicks:dbRange(-30,-120),
  tickFs:5,lw:1,smooth:true,cross:0.429,crossLabel:'0.429',
  series:[{key:'tr1',f:bFreqTR1,v:bDbTR1,color:'#d66fe0',peak:-27},{key:'mr1',f:bFreqMR1,v:bDbMR1,color:'#ff3aa8',peak:-39},{key:'ph1',f:bFreqPH1,v:bDbPH1,color:'#5ccc3a',peak:-29.6}],
  peakBoxes:[{x:1020,y:44,w:22,h:10,c:'#c860e0',t:'-27.0°'},{x:1020,y:55,w:22,h:10,c:'#44c030',t:'-29.6°'},{x:1020,y:83,w:22,h:10,c:'#ff3aa8',t:'-39.0°'}],
  title:{x:1111,y:36,fs:13,t:'Welch Power Spectral Density Estimate, Y-Axis'},
  miniLeg:{x:834,y:36,fs:6,items:[['TR1','#d66fe0'],['MR1','#ff3aa8'],['PH1','#44c030']]},
  peakTxt:{x:870,y:56,fs:11.5},peakArrow:[975,55,1016,55,5],
  badges:[{x:1119,y:50,w:40,h:16,c:'#d070d0',t:'-27.0dB'},{x:1169,y:50,w:40,h:16,c:'#55cc33',t:'-29.6dB'},{x:1221,y:50,w:41,h:16,c:'#ff22dd',t:'-39dB'}],
  legend:{x:1291,y:62,dy:15.5,fs:11.5,items:[['Urban Terrain Road','#d080d0'],['Gravel-Stabilized Mud Road','#ff22dd'],['Pan-Shaped Pothole','#55cc33']]},
  callout:{x:1100,y:313,rx:25,ry:13,fs:8,t:'429Hz'},callArrow:[1080,326,1051,356,5],
  xTitle:{x:1114,y:385,fs:11},yTitle:{x:815,y:205,fs:11}});

drawChart({name:'chart-z-axis',frame:[22,497,678,358],plot:{l:53,t:518,r:697,b:840},
  x0px:53,pxPerK:257, yRef:-30,yRefPx:542,pxPerDb:3.86, xTicks:range(0,2.4,0.1),xDec:1,yTicks:dbRange(-30,-100),
  tickFs:5.5,lw:0.9,smooth:false,cross:0.07,crossLabel:'0.07',
  series:[{key:'tr1',f:cFreqTR1,v:cDbTR1,color:'#1fba8c',peak:-45.8},{key:'mr1',f:cFreqMR1,v:cDbMR1,color:'#f26a35',peak:-36.1},{key:'ph1',f:cFreqPH1,v:cDbPH1,color:'#1b7cc2',peak:-28.1}],
  peakBoxes:[{x:44,y:531,w:22,h:9,c:'#1b7cc2',t:'-28.1'},{x:44,y:562,w:22,h:9,c:'#f26a35',t:'-36.1'},{x:44,y:598,w:22,h:9,c:'#1fba8c',t:'-45.8'}],
  title:{x:367,y:510,fs:11.5,t:'Welch Power Spectral Density Estimate, Z-Axis'},
  miniLeg:{x:56,y:515,fs:6,items:[['TR1','#1fba8c'],['PH1','#1b7cc2'],['MR1','#f26a35']]},
  peakTxt:{x:128,y:529,fs:11},peakArrow:[126,529,77,538,5],
  badges:[{x:253,y:524,w:48,h:17,c:'#19b1f0',t:'-28.1dB'},{x:310,y:524,w:47,h:17,c:'#ff0000',t:'-36.1dB'},{x:367,y:524,w:46,h:17,c:'#22b14c',t:'-45.8dB'}],
  legend:{x:555,y:538,dy:14,fs:9,serif:true,items:[['Pan-Shaped Pothole','#19b1f0'],['Gravel-Stabilized Mud Road','#ff0000'],['Urban Terrain Road','#2e7d32']]},
  callout:{x:118,y:795,rx:33,ry:15,fs:10,t:'7Hz'},callArrow:[100,810,77,834,6],
  xTitle:{x:370,y:863,fs:13},yTitle:{x:40,y:685,fs:13}});

drawChart({name:'chart-driving-behavior',frame:[795,474,720,401],plot:{l:830,t:490,r:1542,b:854},
  x0px:830,pxPerK:284.6, yRef:-30,yRefPx:524.6,pxPerDb:3.99, xTicks:range(0,2.4,0.1),xDec:1,yTicks:dbRange(-30,-110),
  tickFs:6,lw:0.9,smooth:false,cross:0.43,crossLabel:'0.43',
  series:[{key:'ad1',f:dFreqAD1,v:dDbAD1,color:'#d46ef0',peak:-37},{key:'iad1',f:dFreqIAD1,v:dDbIAD1,color:'#17b07a',peak:-25.5},{key:'sd1',f:dFreqSD1,v:dDbSD1,color:'#c41e3a',peak:-25.6}],
  peakBoxes:[{x:921,y:502,w:24,h:10,c:'#17b07a',t:'-25.5'},{x:921,y:514,w:24,h:10,c:'#c41e3a',t:'-25.6'},{x:921,y:547,w:24,h:11,c:'#c850e8',t:'-37.0'}],
  title:{x:1195,y:487,fs:12,t:'Welch Power Spectral Density Estimate, Driving Behavior'},
  miniLeg:{x:831,y:485,fs:6.5,items:[['IAD1','#17b07a'],['AD1','#d46ef0'],['SD1','#c41e3a']]},
  peakTxt:{x:1004,y:506,fs:11},peakArrow:[992,505,962,512,5],
  badges:[{x:1126,y:507,w:56,h:15,c:'#19ae4a',t:'- 25.5db'},{x:1193,y:506,w:56,h:14,c:'#e00000',t:'- 25.6db'},{x:1260,y:507,w:48,h:15,c:'#9370db',t:'- 37db'}],
  legend:{x:1378,y:509,dy:20,fs:12.5,items:[['Inattentive Driving','#1aaa55'],['Smooth Driving','#e00000'],['Aggressive Driving','#8a7be0']]},
  callout:{x:1037,y:826,rx:37,ry:20,fs:13,t:'430Hz'},callArrow:[996,830,963,851,7],
  xTitle:{x:1142,y:871,fs:10},yTitle:{x:808,y:650,fs:14}});
</script>
</body></html>
